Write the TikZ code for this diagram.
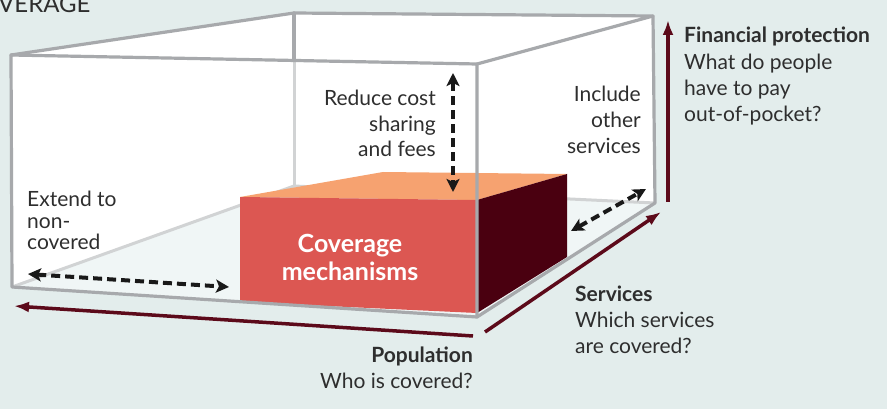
\documentclass[tikz,border=0pt]{standalone}
\usepackage{fontspec}
\setmainfont{Lato}
\usetikzlibrary{arrows.meta}
\definecolor{bgc}{RGB}{227,237,236}
\definecolor{floorc}{RGB}{240,246,246}
\definecolor{edgedark}{RGB}{167,169,172}
\definecolor{edgelight}{RGB}{209,211,212}
\definecolor{redface}{RGB}{220,87,82}
\definecolor{topface}{RGB}{246,162,112}
\definecolor{sideface}{RGB}{74,0,16}
\definecolor{axisc}{RGB}{92,10,26}
\definecolor{txt}{RGB}{46,46,46}
\tikzset{
  darkedge/.style={draw=edgedark,line width=3.2pt,line join=round,line cap=round},
  lightedge/.style={draw=edgelight,line width=3pt,line cap=round},
  dasharrow/.style={draw=black!90,line width=4pt,dash pattern=on 9pt off 5pt,{Stealth[length=13pt,width=13pt,inset=3pt]}-{Stealth[length=13pt,width=13pt,inset=3pt]}},
  axisarrow/.style={draw=axisc,line width=3.5pt,-{Latex[length=15pt,width=11pt]}},
  lbl/.style={inner sep=0pt,text=txt,font=\fontsize{21}{25}\selectfont},
  lblb/.style={inner sep=0pt,text=txt,font=\fontsize{21}{25}\selectfont\bfseries},
}
\begin{document}
\begin{tikzpicture}[x=1pt,y=-1pt]
\useasboundingbox (0,0) rectangle (887,409);
\clip (0,0) rectangle (887,409);
\fill[bgc] (0,0) rectangle (887,409);
% box corners
\coordinate (FLT) at (11,55);
\coordinate (BLT) at (294,13);
\coordinate (BRT) at (653,16);
\coordinate (FRT) at (477,64);
\coordinate (FLB) at (12,287);
\coordinate (BLB) at (294,186);
\coordinate (BRB) at (655,203);
\coordinate (FRB) at (477,317);
\coordinate (BLM) at (294,60);
% interior
\fill[white] (FLB) -- (FLT) -- (BLT) -- (BRT) -- (BRB) -- (FRB) -- cycle;
\fill[floorc] (FLB) -- (BLB) -- (BRB) -- (FRB) -- cycle;
% back edges
\draw[lightedge] (BLM) -- (BLB);
\draw[lightedge] (FLB) -- (BLB) -- (BRB);
% cube
\coordinate (CFL) at (240,197);
\coordinate (CBL) at (383,172);
\coordinate (CBR) at (567,174);
\coordinate (CFR) at (477,200);
\coordinate (CBRb) at (567,257);
\coordinate (CFRb) at (477,313);
\coordinate (CFLb) at (240,302);
\fill[topface] (CFL) -- (CBL) -- (CBR) -- (CFR) -- cycle;
\fill[redface] (CFL) -- (CFR) -- (CFRb) -- (CFLb) -- cycle;
\fill[sideface] (CFR) -- (CBR) -- (CBRb) -- (CFRb) -- cycle;
\node[inner sep=0pt,text=white,font=\fontsize{25}{29}\selectfont\bfseries,anchor=base] (cov1) at (350,252) {Coverage};
\node[inner sep=0pt,text=white,font=\fontsize{25}{29}\selectfont\bfseries,anchor=base] (cov2) at (350,280) {mechanisms};
% front edges
\draw[darkedge] (BLT) -- (BLM);
\draw[darkedge] (FLB) -- (FLT) -- (FRT) -- (FRB) -- cycle;
\draw[darkedge] (FLT) -- (BLT) -- (BRT) -- (FRT);
\draw[darkedge] (BRT) -- (BRB) -- (FRB);
% dashed arrows
\coordinate (d1a) at (453,73);
\coordinate (d1b) at (453,192);
\coordinate (d2a) at (571,231);
\coordinate (d2b) at (646,189);
\coordinate (d3a) at (28,274);
\coordinate (d3b) at (229,287);
\draw[dasharrow] (d1a) -- (d1b);
\draw[dasharrow] (d2a) -- (d2b);
\draw[dasharrow] (d3a) -- (d3b);
% axes
\coordinate (a1s) at (668,202);
\coordinate (a1e) at (668,20);
\coordinate (a2s) at (485,332);
\coordinate (a2e) at (661,212);
\coordinate (a3s) at (473,336);
\coordinate (a3e) at (14,306);
\draw[axisarrow] (a1s) -- (a1e);
\draw[axisarrow] (a2s) -- (a2e);
\draw[axisarrow] (a3s) -- (a3e);
% labels
\node[lbl,anchor=base west,font=\fontsize{24}{28}\selectfont] (title) at (-2,13) {VERAGE};
\node[lbl,anchor=base east] (r1) at (436,106) {Reduce cost};
\node[lbl,anchor=base east] (r2) at (436,132) {sharing};
\node[lbl,anchor=base east] (r3) at (436,157) {and fees};
\node[lbl,anchor=base east] (i1) at (641,102) {Include};
\node[lbl,anchor=base east] (i2) at (641,128) {other};
\node[lbl,anchor=base east] (i3) at (641,154) {services};
\node[lblb,anchor=base west] (f0) at (684,43) {Financial protection};
\node[lbl,anchor=base west] (f1) at (684,70) {What do people};
\node[lbl,anchor=base west] (f2) at (684,96) {have to pay};
\node[lbl,anchor=base west] (f3) at (684,122) {out-of-pocket?};
\node[lbl,anchor=base west] (e1) at (27,207) {Extend to};
\node[lbl,anchor=base west] (e2) at (27,229) {non-};
\node[lbl,anchor=base west] (e3) at (27,250) {covered};
\node[lblb,anchor=base east] (p0) at (473,362) {Population};
\node[lbl,anchor=base east] (p1) at (473,388) {Who is covered?};
\node[lblb,anchor=base west] (s0) at (575,301) {Services};
\node[lbl,anchor=base west] (s1) at (575,327) {Which services};
\node[lbl,anchor=base west] (s2) at (575,353) {are covered?};
\end{tikzpicture}
\end{document}
